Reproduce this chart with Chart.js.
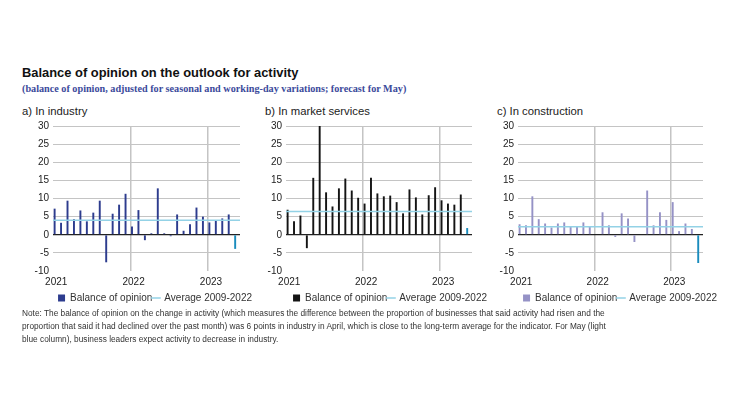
<!DOCTYPE html>
<html><head><meta charset="utf-8">
<script src="https://cdn.jsdelivr.net/npm/chart.js@4.4.1/dist/chart.umd.min.js"></script>
<style>
body{margin:0;background:#fff;width:730px;height:410px;position:relative;overflow:hidden;font-family:"Liberation Sans",Arial,sans-serif;}
.abs{position:absolute;white-space:nowrap;}
#title{left:22px;top:65px;font-weight:bold;font-size:12.9px;color:#111;}
#sub{left:22px;top:83px;font-family:"Liberation Serif",serif;font-weight:bold;font-size:10.2px;color:#3b4a9b;}
.pt{font-size:11.3px;color:#222;top:105px;}
#note{left:22px;top:307px;font-size:8.3px;line-height:12.8px;color:#333;}
canvas{position:absolute;}
</style></head>
<body>
<div id="title" class="abs">Balance of opinion on the outlook for activity</div>
<div id="sub" class="abs">(balance of opinion, adjusted for seasonal and working-day variations; forecast for May)</div>
<div class="abs pt" style="left:22px">a) In industry</div>
<div class="abs pt" style="left:265px">b) In market services</div>
<div class="abs pt" style="left:497px">c) In construction</div>
<canvas id="ca" width="232" height="197" style="left:20px;top:116px"></canvas>
<canvas id="cb" width="234" height="197" style="left:253px;top:116px"></canvas>
<canvas id="cc" width="232" height="197" style="left:485px;top:116px"></canvas>
<div id="note" class="abs">Note: The balance of opinion on the change in activity (which measures the difference between the proportion of businesses that said activity had risen and the<br>proportion that said it had declined over the past month) was 6 points in industry in April, which is close to the long-term average for the indicator. For May (light<br>blue column), business leaders expect activity to decrease in industry.</div>
<script>
// Months Jan 2021 .. May 2023 (last = forecast)
const months = [
 "2021-01","2021-02","2021-03","2021-04","2021-05","2021-06","2021-07","2021-08","2021-09","2021-10","2021-11","2021-12",
 "2022-01","2022-02","2022-03","2022-04","2022-05","2022-06","2022-07","2022-08","2022-09","2022-10","2022-11","2022-12",
 "2023-01","2023-02","2023-03","2023-04","2023-05"];
const yearTicks = {"2021-01":"2021","2022-01":"2022","2023-01":"2023"};
const industry = [7.2,3.3,9.4,4.3,6.7,3.7,6.1,9.4,-7.6,5.8,8.3,11.3,
                  2.3,6.8,-1.5,0.4,12.8,0.4,-0.4,5.6,1.1,2.9,7.5,5.0,
                  3.4,3.9,4.5,5.6,-3.9];
const services = [6.9,3.7,5.3,-3.7,15.7,30.0,11.7,7.8,12.8,15.5,12.2,10.2,
                  8.6,15.7,11.4,10.6,10.8,9.0,5.9,12.5,10.3,5.6,10.9,13.1,
                  9.5,8.6,8.3,11.1,1.85];
const construction = [2.9,2.6,10.6,4.3,3.1,2.0,3.1,3.4,2.3,2.3,3.4,2.3,
                      0,6.2,2.6,-0.6,5.9,4.5,-2.0,0,12.2,2.6,6.2,4.1,
                      9.0,1.0,3.1,1.6,-7.8];
const averages = {industry:4.0, services:6.4, construction:2.2};
const yTicks = {min:-10, max:30, step:5};
const forecastLabel = "2023-05";
const legendLabels = ["Balance of opinion","Average 2009-2022"];

const FORECAST = '#1a8cbd';
const AVG = '#93d2e6';

function panel(id, values, avg, color, plotW){
  const ctx = document.getElementById(id);
  return new Chart(ctx, {
    data: {
      labels: months,
      datasets: [
        {type:'bar', data: values, xAxisID:'x', yAxisID:'y',
         backgroundColor: c => (months[c.dataIndex] === forecastLabel ? FORECAST : color),
         barPercentage:0.6, categoryPercentage:1.0, order:2},
        {type:'line', data:[{x:0,y:avg},{x:1,y:avg}], xAxisID:'x2', yAxisID:'y',
         borderColor:AVG, borderWidth:1.5, pointRadius:0, order:1}
      ]
    },
    options: {
      responsive:false, animation:false,
      layout:{padding:0},
      plugins:{
        legend:{display:true, position:'bottom', align:'end',
          labels:{usePointStyle:true, boxWidth:7, boxHeight:7, padding:0,
            color:'#333', font:{family:'Liberation Sans', size:10},
            generateLabels: () => [
              {text:legendLabels[0], fillStyle:color, strokeStyle:color, lineWidth:0, pointStyle:'rect', fontColor:'#333'},
              {text:legendLabels[1], fillStyle:AVG, strokeStyle:AVG, lineWidth:1.5, pointStyle:'line', fontColor:'#333'}
            ]}},
        tooltip:{enabled:false}
      },
      scales:{
        x:{type:'category', offset:true,
           border:{display:false},
           grid:{offset:true, drawTicks:false,
             color: c => (c.index === 12 || c.index === 24) ? '#c4c4c4' : 'rgba(0,0,0,0)',
             lineWidth:1.5},
           ticks:{autoSkip:false, maxRotation:0, padding:5, color:'#222',
             font:{family:'Liberation Sans', size:10},
             callback:(v,i) => yearTicks[months[i]] || ''}},
        x2:{type:'linear', min:0, max:1, display:false},
        y:{type:'linear', min:yTicks.min, max:yTicks.max,
           border:{display:false},
           afterFit: s => { s.width = 33; },
           grid:{drawTicks:false,
             color: c => c.tick.value === 0 ? '#222' : (c.tick.value === yTicks.min ? 'rgba(0,0,0,0)' : '#c4c4c4'),
             lineWidth: c => c.tick.value === 0 ? 1.2 : 1},
           ticks:{stepSize:yTicks.step, padding:4, color:'#222', font:{family:'Liberation Sans', size:10}}},
        y2:{type:'linear', position:'right', display:true, min:0, max:1,
           border:{display:false}, grid:{display:false}, ticks:{display:false},
           afterFit: s => { s.width = plotW; }}
      }
    }
  });
}
panel('ca', industry, averages.industry, '#2d3c8e', 12);
panel('cb', services, averages.services, '#141414', 15);
panel('cc', construction, averages.construction, '#9592c6', 14);
</script>
</body></html>
